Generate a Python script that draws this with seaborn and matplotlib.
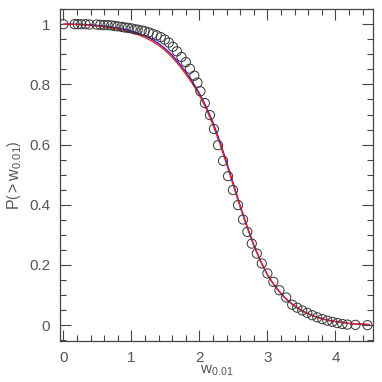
import matplotlib
matplotlib.use("Agg")
import matplotlib.pyplot as plt
import numpy as np
import pandas as pd
import seaborn as sns
from matplotlib.ticker import MultipleLocator

# measured points (open circles)
w_obs = [0.000, 0.164, 0.212, 0.263, 0.326, 0.385, 0.488, 0.543, 0.596, 0.650,
         0.705, 0.754, 0.798, 0.857, 0.901, 0.950, 1.004, 1.049, 1.093, 1.152,
         1.196, 1.255, 1.314, 1.373, 1.432, 1.491, 1.551, 1.610, 1.669, 1.737,
         1.801, 1.860, 1.926, 1.971, 2.015, 2.081, 2.155, 2.214, 2.273, 2.347,
         2.421, 2.494, 2.568, 2.642, 2.705, 2.770, 2.844, 2.917, 3.000, 3.088,
         3.177, 3.276, 3.364, 3.438, 3.512, 3.586, 3.660, 3.733, 3.807, 3.881,
         3.955, 4.028, 4.102, 4.176, 4.294, 4.471]
p_obs = [1.000, 1.000, 1.000, 1.000, 1.000, 0.999, 0.999, 0.998, 0.997, 0.997,
         0.996, 0.994, 0.993, 0.991, 0.989, 0.988, 0.986, 0.983, 0.982, 0.979,
         0.977, 0.973, 0.968, 0.963, 0.957, 0.949, 0.939, 0.925, 0.910, 0.891,
         0.874, 0.852, 0.829, 0.806, 0.777, 0.738, 0.698, 0.652, 0.598, 0.546,
         0.495, 0.449, 0.399, 0.351, 0.310, 0.271, 0.238, 0.205, 0.172, 0.144,
         0.116, 0.092, 0.068, 0.058, 0.049, 0.041, 0.033, 0.026, 0.020, 0.015,
         0.011, 0.007, 0.004, 0.002, 0.001, 0.000]

# model curves
w_model = [0.0, 0.1, 0.2, 0.3, 0.4, 0.5, 0.6, 0.7, 0.8, 0.9,
           1.0, 1.1, 1.2, 1.3, 1.4, 1.5, 1.6, 1.7, 1.8, 1.9,
           2.0, 2.1, 2.2, 2.3, 2.4, 2.5, 2.6, 2.7, 2.8, 2.9,
           3.0, 3.1, 3.2, 3.3, 3.4, 3.5, 3.6, 3.7, 3.8, 3.9,
           4.0, 4.1, 4.2, 4.3, 4.4, 4.5]
p_blue = [1.000, 1.000, 1.000, 0.999, 0.998, 0.996, 0.994, 0.991, 0.987, 0.983,
          0.977, 0.970, 0.961, 0.950, 0.936, 0.918, 0.897, 0.871, 0.841, 0.808,
          0.770, 0.726, 0.673, 0.611, 0.542, 0.469, 0.397, 0.329, 0.267, 0.213,
          0.168, 0.133, 0.105, 0.082, 0.064, 0.049, 0.038, 0.029, 0.022, 0.016,
          0.012, 0.009, 0.006, 0.004, 0.003, 0.002]
p_red = [1.000, 1.000, 0.999, 0.998, 0.996, 0.994, 0.991, 0.988, 0.984, 0.979,
         0.973, 0.965, 0.956, 0.944, 0.930, 0.912, 0.890, 0.864, 0.834, 0.802,
         0.764, 0.719, 0.665, 0.603, 0.535, 0.463, 0.392, 0.325, 0.264, 0.211,
         0.167, 0.132, 0.104, 0.081, 0.063, 0.048, 0.037, 0.028, 0.021, 0.016,
         0.012, 0.009, 0.006, 0.004, 0.003, 0.002]

xtick_vals = [0, 1, 2, 3, 4]
ytick_vals = [0, 0.2, 0.4, 0.6, 0.8, 1.0]
ytick_labels = ["0", "0.2", "0.4", "0.6", "0.8", "1"]

sns.set_theme(style="white")
plt.rcParams["font.family"] = ["Liberation Sans", "DejaVu Sans"]
plt.rcParams["mathtext.fontset"] = "custom"
plt.rcParams["mathtext.rm"] = "Liberation Sans"
plt.rcParams["mathtext.it"] = "Liberation Sans"

text_color = "#555555"

fig = plt.figure(figsize=(3.82, 3.82), dpi=100)
ax = fig.add_axes([0.157, 0.107, 0.819, 0.869])

df_obs = pd.DataFrame({"w": w_obs, "p": p_obs})
df_model = pd.DataFrame({"w": w_model, "blue": p_blue, "red": p_red})

sns.lineplot(data=df_model, x="w", y="blue", color="#2020e0", linewidth=1.0,
             ax=ax, sort=False)
sns.lineplot(data=df_model, x="w", y="red", color="#ff2020", linewidth=1.0,
             ax=ax, sort=False)
sns.scatterplot(data=df_obs, x="w", y="p", marker="o", s=44,
                facecolors="none", edgecolors="#333333", linewidths=0.7,
                ax=ax, zorder=3)

ax.set_xlim(-0.05, 4.55)
ax.set_ylim(-0.053, 1.05)
ax.set_xticks(xtick_vals)
ax.set_yticks(ytick_vals)
ax.set_yticklabels(ytick_labels)
ax.xaxis.set_minor_locator(MultipleLocator(0.2))
ax.yaxis.set_minor_locator(MultipleLocator(0.05))
ax.tick_params(which="both", direction="in", top=True, right=True,
               bottom=True, left=True, color="#444444", width=0.8,
               labelsize=11, labelcolor=text_color)
ax.tick_params(which="major", length=8, pad=7)
ax.tick_params(which="minor", length=4.5)
for s in ax.spines.values():
    s.set_color("#444444")
    s.set_linewidth(0.9)

ax.set_xlabel(r"w$_{0.01}$", fontsize=11, color=text_color, labelpad=-1)
ax.set_ylabel(r"P$\left(>\mathrm{w}_{0.01}\right)$", fontsize=11.5,
              color=text_color, labelpad=4)

fig.savefig("out.png", dpi=100)
